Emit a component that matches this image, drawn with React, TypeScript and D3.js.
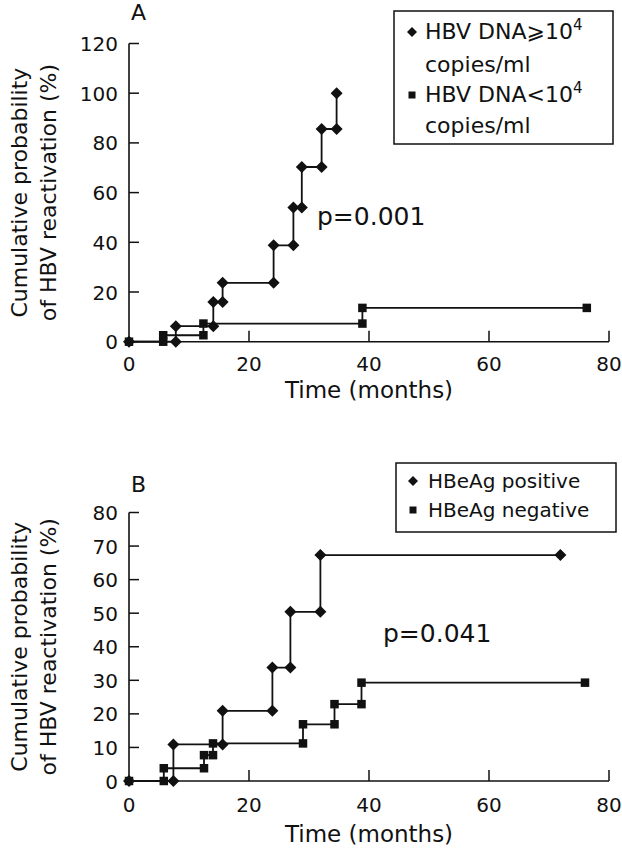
import React from "react";
import * as d3 from "d3";

// Panel A data
const aHighTimes = [7.8, 14.05, 15.6, 24.1, 27.4, 28.8, 32.1, 34.6];
const aHighValues = [6.25, 16.0, 23.7, 38.8, 54.0, 70.3, 85.6, 100];
const aHighEnd = 34.6;
const aLowTimes = [5.7, 12.4, 38.9];
const aLowValues = [2.6, 7.3, 13.6];
const aLowEnd = 76.3;
const aYTicks = [0, 20, 40, 60, 80, 100, 120];

// Panel B data
const bPosTimes = [7.4, 15.6, 23.9, 26.9, 31.9];
const bPosValues = [10.9, 20.9, 33.8, 50.4, 67.3];
const bPosEnd = 71.9;
const bNegTimes = [5.8, 12.5, 14.0, 29.0, 34.25, 38.75];
const bNegValues = [3.8, 7.7, 11.2, 16.9, 22.9, 29.3];
const bNegEnd = 76;
const bYTicks = [0, 10, 20, 30, 40, 50, 60, 70, 80];

const xTicks = [0, 20, 40, 60, 80];

const FONT = "'DejaVu Sans', Verdana, sans-serif";
const INK = "#111";

type Pt = [number, number];

function stepPoints(times: number[], values: number[], end: number): { line: Pt[]; marks: Pt[] } {
  const line: Pt[] = [[0, 0]];
  const marks: Pt[] = [[0, 0]];
  let prev = 0;
  times.forEach((t, i) => {
    line.push([t, values[i]]);
    marks.push([t, prev]);
    marks.push([t, values[i]]);
    prev = values[i];
  });
  if (end > times[times.length - 1]) {
    line.push([end, prev]);
    marks.push([end, prev]);
  }
  return { line, marks };
}

function Diamond({ x, y, r }: { x: number; y: number; r: number }) {
  return <path d={`M${x},${y - r}L${x + r},${y}L${x},${y + r}L${x - r},${y}Z`} fill={INK} />;
}
function Square({ x, y, s }: { x: number; y: number; s: number }) {
  return <rect x={x - s / 2} y={y - s / 2} width={s} height={s} fill={INK} />;
}

function Panel(props: {
  y0: number;
  y1: number;
  yMax: number;
  yTicks: number[];
  series: { times: number[]; values: number[]; end: number; shape: "d" | "s" }[];
  letter: string;
  letterY: number;
  tickLabelY: number;
  titleY: number;
  pText: string;
  pX: number;
  pY: number;
}) {
  const x = d3.scaleLinear().domain([0, 80]).range([129, 609]);
  const y = d3.scaleLinear().domain([0, props.yMax]).range([props.y0, props.y1]);
  const line = d3
    .line<Pt>()
    .x((d) => x(d[0]))
    .y((d) => y(d[1]))
    .curve(d3.curveStepAfter);
  const midY = (props.y0 + props.y1) / 2;
  return (
    <g>
      {/* axes */}
      <line x1={x(0)} x2={x(0)} y1={y(0)} y2={y(props.yMax)} stroke={INK} strokeWidth={1.6} />
      <line x1={x(0)} x2={x(80)} y1={y(0)} y2={y(0)} stroke={INK} strokeWidth={1.6} />
      {props.yTicks.map((t) => (
        <g key={"y" + t}>
          <line x1={x(0)} x2={x(0) + 10} y1={y(t)} y2={y(t)} stroke={INK} strokeWidth={1.5} />
          <text x={118} y={y(t) + 7.5} textAnchor="end" fontSize={20} fontFamily={FONT} fill={INK}>
            {t}
          </text>
        </g>
      ))}
      {xTicks.map((t) => (
        <g key={"x" + t}>
          {t > 0 && <line x1={x(t)} x2={x(t)} y1={y(0)} y2={y(0) - 11} stroke={INK} strokeWidth={1.5} />}
          <text x={x(t)} y={props.tickLabelY} textAnchor="middle" fontSize={20} fontFamily={FONT} fill={INK}>
            {t}
          </text>
        </g>
      ))}
      <text x={x(40)} y={props.titleY} textAnchor="middle" fontSize={23} fontFamily={FONT} fill={INK}>
        Time (months)
      </text>
      <text
        transform={`translate(27,${midY}) rotate(-90)`}
        textAnchor="middle"
        fontSize={22}
        fontFamily={FONT}
        fill={INK}
      >
        Cumulative probability
      </text>
      <text
        transform={`translate(56,${midY}) rotate(-90)`}
        textAnchor="middle"
        fontSize={22}
        fontFamily={FONT}
        fill={INK}
      >
        of HBV reactivation (%)
      </text>
      <text x={131} y={props.letterY} fontSize={22} fontFamily={FONT} fill={INK}>
        {props.letter}
      </text>
      <text x={props.pX} y={props.pY} fontSize={25} fontFamily={FONT} fill={INK}>
        {props.pText}
      </text>
      {props.series.map((s, i) => {
        const { line: pts, marks } = stepPoints(s.times, s.values, s.end);
        return (
          <g key={i}>
            <path d={line(pts) || ""} fill="none" stroke={INK} strokeWidth={1.8} />
            {marks.map((m, j) =>
              s.shape === "d" ? (
                <Diamond key={j} x={x(m[0])} y={y(m[1])} r={6} />
              ) : (
                <Square key={j} x={x(m[0])} y={y(m[1])} s={8.5} />
              )
            )}
          </g>
        );
      })}
    </g>
  );
}

export default function App() {
  return (
    <svg
      width={622}
      height={852}
      viewBox="0 0 622 852"
      style={{ position: "absolute", left: 0, top: 0, background: "#fff" }}
    >
      <rect x={0} y={0} width={622} height={852} fill="#fff" />
      <Panel
        y0={341.7}
        y1={43.5}
        yMax={120}
        yTicks={aYTicks}
        series={[
          { times: aHighTimes, values: aHighValues, end: aHighEnd, shape: "d" },
          { times: aLowTimes, values: aLowValues, end: aLowEnd, shape: "s" },
        ]}
        letter="A"
        letterY={20}
        tickLabelY={371}
        titleY={398}
        pText="p=0.001"
        pX={317}
        pY={225}
      />
      <Panel
        y0={781}
        y1={512.5}
        yMax={80}
        yTicks={bYTicks}
        series={[
          { times: bPosTimes, values: bPosValues, end: bPosEnd, shape: "d" },
          { times: bNegTimes, values: bNegValues, end: bNegEnd, shape: "s" },
        ]}
        letter="B"
        letterY={492}
        tickLabelY={812}
        titleY={842}
        pText="p=0.041"
        pX={383}
        pY={642}
      />
      {/* Legend A */}
      <rect x={394} y={11} width={219} height={133} fill="#fff" stroke={INK} strokeWidth={1.5} />
      <Diamond x={412} y={32} r={5} />
      <text x={425} y={39} fontSize={22} fontFamily={FONT} fill={INK}>
        HBV DNA⩾10<tspan dy={-9} fontSize={15}>4</tspan>
      </text>
      <text x={425} y={72} fontSize={22} fontFamily={FONT} fill={INK}>
        copies/ml
      </text>
      <Square x={412} y={95} s={7} />
      <text x={425} y={102} fontSize={22} fontFamily={FONT} fill={INK}>
        HBV DNA&lt;10<tspan dy={-9} fontSize={15}>4</tspan>
      </text>
      <text x={425} y={133} fontSize={22} fontFamily={FONT} fill={INK}>
        copies/ml
      </text>
      {/* Legend B */}
      <rect x={396} y={463} width={220} height={69} fill="#fff" stroke={INK} strokeWidth={1.5} />
      <Diamond x={413} y={481} r={5} />
      <text x={428} y={488} fontSize={20} fontFamily={FONT} fill={INK}>
        HBeAg positive
      </text>
      <Square x={413} y={510} s={7} />
      <text x={428} y={517} fontSize={20} fontFamily={FONT} fill={INK}>
        HBeAg negative
      </text>
    </svg>
  );
}
